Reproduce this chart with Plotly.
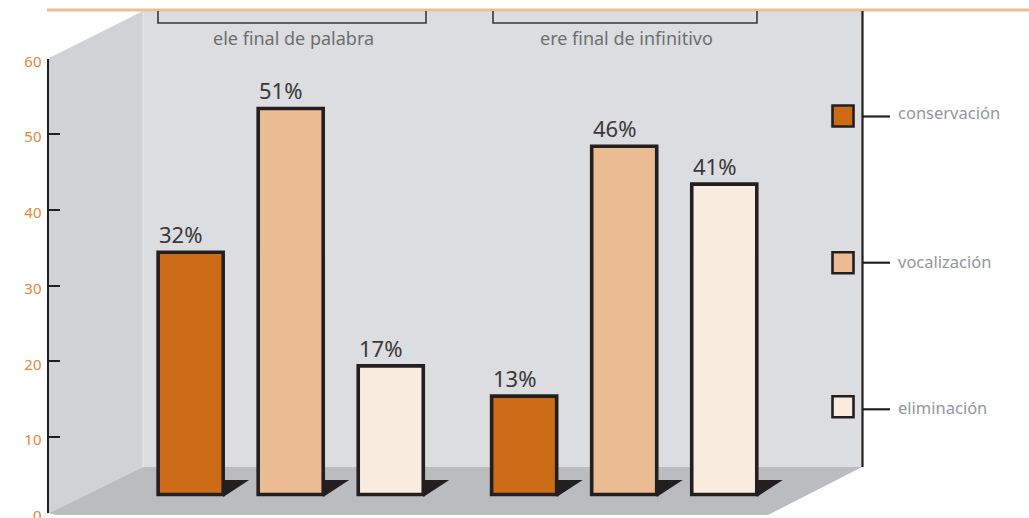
import plotly.graph_objects as go

# ---- data ----
categories = ["ele final de palabra", "ere final de infinitivo"]
series_names = ["conservación", "vocalización", "eliminación"]
conservacion = [32, 13]
vocalizacion = [51, 46]
eliminacion = [17, 41]
series_values = [conservacion, vocalizacion, eliminacion]
y_ticks = [0, 10, 20, 30, 40, 50, 60]

# ---- style ----
W, H = 1029, 518
colors = ["#CC6C17", "#EBBB92", "#F9EBDE"]
INK = "#231F20"
WALL, SIDE, FLOOR = "#DCDDE0", "#D1D2D4", "#BBBCBF"
TOP = "#EDBF96"
AX_L, Y0, Y60 = 48.5, 512.7, 58.5     # pixel anchors of the axes
C0, STEP = 290.7, 333.5               # pixel centre of 1st category, px per category
BASE = 2.4                            # raised floor of the pseudo-3D bars

def px(x):
    return x / W
def py(y):
    return 1 - y / H
def poly(points, fill, layer="below"):
    path = "M " + " L ".join(f"{px(a):.5f},{py(b):.5f}" for a, b in points) + " Z"
    return dict(type="path", xref="paper", yref="paper", path=path,
                fillcolor=fill, line=dict(width=0), layer=layer)
def seg(pts, width=2, color=INK, layer="below"):
    path = "M " + " L ".join(f"{px(a):.5f},{py(b):.5f}" for a, b in pts)
    return dict(type="path", xref="paper", yref="paper", path=path,
                line=dict(color=color, width=width), layer=layer)

fig = go.Figure()
for name, vals, col in zip(series_names, series_values, colors):
    fig.add_bar(name=name, x=categories, y=vals, base=BASE, marker=dict(
        color=col, line=dict(color=INK, width=3.6)), showlegend=False, hoverinfo="skip")

shapes = [
    poly([(143, 11), (862, 11), (862, 467), (143, 467)], WALL),
    poly([(49, 58), (143, 11), (143, 467), (49, 513)], SIDE),
    poly([(143, 467), (862, 467), (768, 515), (56, 515), (49, 513)], FLOOR),
    seg([(143, 11), (143, 467)], 1, "#E6E7E8"),
    seg([(47, 10), (W, 10)], 3, TOP),
    seg([(862.5, 11), (862.5, 467)], 2.2),
]
annotations = []

SLOT = 0.3
BAR_W = 0.195
for s, vals in enumerate(series_values):
    for c, v in enumerate(vals):
        cx = C0 + (c + (s - 1) * SLOT) * STEP
        right = cx + BAR_W * STEP / 2
        shapes.append(poly([(right, 497), (right + 26, 480), (right, 480)], INK))
        annotations.append(dict(
            x=c + (s - 1) * SLOT - BAR_W / 2 - 0.003, y=v + BASE, xref="x", yref="y",
            text=f"{v}%", showarrow=False, xanchor="left", yanchor="bottom", yshift=1,
            font=dict(size=22, color="#3A3839", family="Noto Sans")))

for i, (l, r) in enumerate([(158, 426), (493, 757)]):
    shapes.append(seg([(l, 11), (l, 23), (r, 23), (r, 11)], 1.6, "#3A3839"))
    annotations.append(dict(x=px((l + r) / 2 + 1), y=py(38), xref="paper", yref="paper",
                            text=categories[i], showarrow=False, xanchor="center", yanchor="middle",
                            font=dict(size=18, color="#6D6E71", family="Noto Sans")))

for name, col, sq_y, line_y, text_y in zip(series_names, colors,
                                           [116, 262.7, 406.7],
                                           [116.5, 262.7, 409.3],
                                           [112, 261, 407]):
    shapes.append(dict(type="rect", xref="paper", yref="paper",
                       x0=px(832.5), x1=px(853.5), y0=py(sq_y + 10.5), y1=py(sq_y - 10.5),
                       fillcolor=col, line=dict(color=INK, width=2.6), layer="below"))
    shapes.append(seg([(862, line_y), (890, line_y)], 2.2))
    annotations.append(dict(x=px(896), y=py(text_y), xref="paper", yref="paper",
                            text=name, showarrow=False, xanchor="left", yanchor="middle",
                            font=dict(size=16.5, color="#949699", family="Noto Sans")))

fig.update_layout(
    template="none",
    width=W, height=H, margin=dict(l=0, r=0, t=0, b=0, pad=0), autosize=False,
    paper_bgcolor="white", plot_bgcolor="rgba(0,0,0,0)",
    barmode="group", bargap=0.1, bargroupgap=0.35,
    shapes=shapes, annotations=annotations,
    xaxis=dict(domain=[px(AX_L), 1], type="category", automargin=False,
               range=[-(C0 - AX_L) / STEP, (W - C0) / STEP],
               showgrid=False, showticklabels=False, ticks="", zeroline=False, showline=False),
    yaxis=dict(domain=[py(Y0), py(Y60)], range=[0, 60], tickvals=y_ticks, automargin=False,
               showgrid=False, zeroline=False, showline=True, linecolor=INK, linewidth=2,
               ticks="inside", ticklen=11, tickwidth=2, tickcolor=INK,
               ticklabelshift=3, ticklabelstandoff=2, ticklabeloverflow="allow",
               tickfont=dict(size=15, color="#E0873A", family="Noto Sans")),
)
fig.write_html("out.html", config=dict(displayModeBar=False),
               post_script="document.body.style.margin='0';document.body.style.overflow='hidden';")
